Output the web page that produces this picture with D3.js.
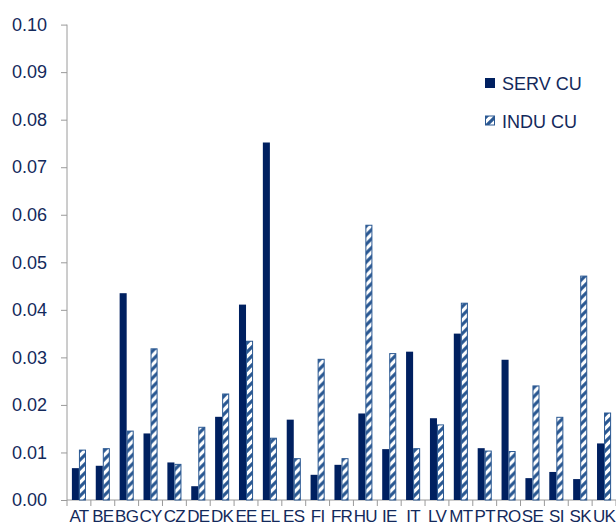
<!DOCTYPE html>
<html>
<head>
<meta charset="utf-8">
<script src="https://cdn.jsdelivr.net/npm/d3@7"></script>
<style>
  html, body { margin: 0; padding: 0; background: #fff; }
  svg { display: block; }
  text { font-family: "Liberation Sans", Arial, sans-serif; fill: #13295b; }
</style>
</head>
<body>
<svg id="chart" width="616" height="527"></svg>
<script>
// Country codes along the x axis
const countries = ["AT","BE","BG","CY","CZ","DE","DK","EE","EL","ES","FI","FR",
                   "HU","IE","IT","LV","MT","PT","RO","SE","SI","SK","UK"];
// Services unit costs
const servCU = [0.0067,0.0072,0.0435,0.0140,0.0079,0.0029,0.0175,0.0411,0.0752,0.0169,0.0053,0.0074,
                0.0182,0.0107,0.0312,0.0172,0.0350,0.0109,0.0295,0.0046,0.0059,0.0044,0.0119];
// Industry unit costs
const induCU = [0.0106,0.0109,0.0146,0.0319,0.0076,0.0154,0.0224,0.0335,0.0131,0.0088,0.0297,0.0088,
                0.0579,0.0309,0.0109,0.0159,0.0415,0.0104,0.0103,0.0241,0.0175,0.0472,0.0184];
const seriesNames = ["SERV CU", "INDU CU"];
const yTicks = [0,0.01,0.02,0.03,0.04,0.05,0.06,0.07,0.08,0.09,0.10];

const svg = d3.select("#chart");
const navy = "#002060";
const stripe = "#2a5892";
const axisGrey = "#9a9a9a";

// Diagonal hatching for the industry series
const defs = svg.append("defs");
const pat = defs.append("pattern")
  .attr("id", "hatch")
  .attr("patternUnits", "userSpaceOnUse")
  .attr("width", 9).attr("height", 9);
pat.append("rect").attr("width", 9).attr("height", 9).attr("fill", "#fff");
pat.append("path")
  .attr("d", "M-2,2 L2,-2 M0,9 L9,0 M7,11 L11,7")
  .attr("stroke", stripe).attr("stroke-width", 3.1);

const x0 = 67, x1 = 616, yBase = 500, yTop = 24.6;

const x = d3.scaleBand().domain(countries).range([x0, x1])
  .paddingInner(0.41).paddingOuter(0.205);
const xs = d3.scaleBand().domain(seriesNames).range([0, x.bandwidth()]);
const y = d3.scaleLinear().domain([0, 0.10]).range([yBase, yTop]);

// Y axis
const yAxis = svg.append("g").attr("transform", `translate(${x0},0)`)
  .call(d3.axisLeft(y).tickValues(yTicks).tickFormat(d3.format(".2f")).tickSize(6).tickPadding(14));
yAxis.select(".domain").attr("stroke", axisGrey).attr("d", `M0,${yBase}V${yTop}`);
yAxis.selectAll(".tick line").attr("stroke", axisGrey);
yAxis.selectAll(".tick text").attr("font-size", 18)
  .attr("font-family", "Liberation Sans, Arial, sans-serif").attr("fill", "#13295b");

// X axis: ticks between categories
const step = x.step();
const xAxis = svg.append("g").attr("transform", `translate(0,${yBase})`)
  .call(d3.axisBottom(x).tickSize(0).tickPadding(10));
xAxis.select(".domain").attr("stroke", axisGrey).attr("d", `M${x0},0H${x1}`);
xAxis.selectAll(".tick text").attr("font-size", 17).attr("letter-spacing", "-0.7px")
  .attr("font-family", "Liberation Sans, Arial, sans-serif").attr("fill", "#13295b");
xAxis.selectAll(".sep").data(d3.range(countries.length + 1)).enter().append("line")
  .attr("class", "sep")
  .attr("x1", i => x0 + i * step).attr("x2", i => x0 + i * step)
  .attr("y1", 0).attr("y2", 6).attr("stroke", axisGrey);

// Bars
const rows = countries.map((c, i) => ({ c, vals: [servCU[i], induCU[i]] }));
const groups = svg.append("g").selectAll("g").data(rows).enter().append("g")
  .attr("transform", d => `translate(${x(d.c)},0)`);
groups.selectAll("rect").data(d => d.vals.map((v, k) => ({ v, k })))
  .enter().append("rect")
  .attr("x", d => xs(seriesNames[d.k]) + (d.k ? 0.5 : 0))
  .attr("width", d => xs.bandwidth() - (d.k ? 1 : 0))
  .attr("y", d => y(d.v) + (d.k ? 0.5 : 0))
  .attr("height", d => yBase - y(d.v) - (d.k ? 0.5 : 0))
  .attr("fill", d => d.k ? "url(#hatch)" : navy)
  .attr("stroke", d => d.k ? stripe : "none")
  .attr("stroke-width", 1);

// Legend
const legend = svg.append("g");
seriesNames.forEach((name, k) => {
  const ly = 83 + k * 37.5;
  legend.append("rect")
    .attr("x", k ? 485.5 : 485).attr("y", ly - 5 + (k ? 0.5 : 0))
    .attr("width", k ? 9 : 10).attr("height", k ? 9 : 10)
    .attr("fill", k ? "url(#hatch)" : navy)
    .attr("stroke", k ? stripe : "none");
  legend.append("text")
    .attr("x", 502).attr("y", ly + 7)
    .attr("font-size", 18)
    .text(name);
});
</script>
</body>
</html>
